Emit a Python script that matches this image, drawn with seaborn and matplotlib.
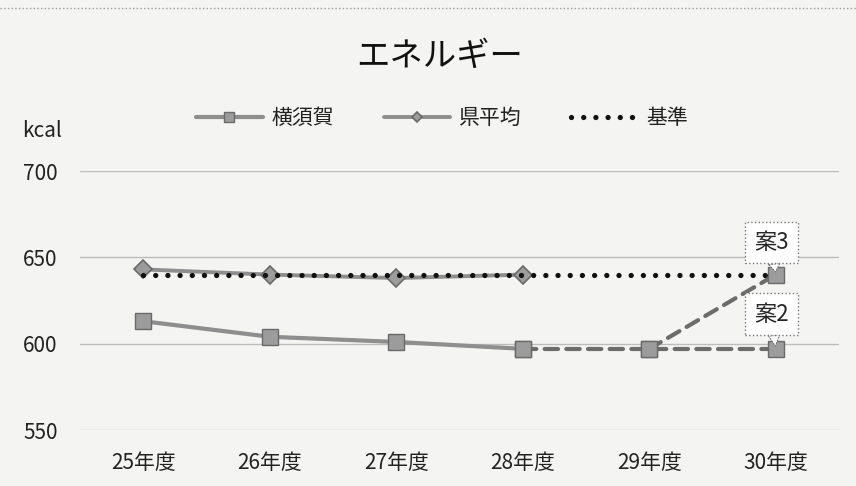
import numpy as np
import pandas as pd
import matplotlib
matplotlib.use("Agg")
import matplotlib.pyplot as plt
from matplotlib.lines import Line2D
import seaborn as sns

# ---- data ----
years = ["25年度", "26年度", "27年度", "28年度", "29年度", "30年度"]
yokosuka_years = ["25年度", "26年度", "27年度", "28年度"]
yokosuka = [613, 604, 601, 597]
plan2_years = ["28年度", "29年度", "30年度"]
plan2 = [597, 597, 597]
plan3_years = ["29年度", "30年度"]
plan3 = [597, 640]
pref_years = ["25年度", "26年度", "27年度", "28年度"]
pref_avg = [643, 640, 638, 640]
standard = [640, 640, 640, 640, 640, 640]
yticks = [550, 600, 650, 700]

sns.set_style("white")
plt.rcParams["font.family"] = ["Noto Sans CJK JP", "DejaVu Sans"]

BG = "#f4f4f2"
fig = plt.figure(figsize=(8.56, 4.86), dpi=100, facecolor=BG)
ax = fig.add_axes([80 / 856, 1 - 430 / 486, (839 - 80) / 856, (430 - 171) / 486])
ax.set_facecolor(BG)

# establish category order
ax.plot(years, [np.nan] * len(years))

LINE = "#8e8e8e"
MFC = "#9c9c9c"
MEC = "#6a6a6a"
DASH = "#6c6c6c"

df_y = pd.DataFrame({"x": yokosuka_years, "y": yokosuka})
df_p = pd.DataFrame({"x": pref_years, "y": pref_avg})
df_s = pd.DataFrame({"x": years, "y": standard})
df_2 = pd.DataFrame({"x": plan2_years, "y": plan2})
df_3 = pd.DataFrame({"x": plan3_years, "y": plan3})

sns.lineplot(data=df_p, x="x", y="y", ax=ax, color=LINE, lw=2.8, marker="D",
             markersize=9, markerfacecolor=MFC, markeredgecolor=MEC,
             markeredgewidth=1.2, label="県平均", zorder=3, sort=False)
sns.lineplot(data=df_2, x="x", y="y", ax=ax, color=DASH, lw=3.0,
             linestyle=(0, (3.2, 2.0)), dash_capstyle="round", zorder=3,
             sort=False, legend=False)
sns.lineplot(data=df_3, x="x", y="y", ax=ax, color=DASH, lw=3.0,
             linestyle=(0, (3.2, 2.0)), dash_capstyle="round", zorder=3,
             sort=False, legend=False)
sns.lineplot(data=df_2, x="x", y="y", ax=ax, color=LINE, lw=0, marker="s",
             markersize=11, markerfacecolor=MFC, markeredgecolor=MEC,
             markeredgewidth=1.0, zorder=4, sort=False, legend=False)
sns.lineplot(data=df_3, x="x", y="y", ax=ax, color=LINE, lw=0, marker="s",
             markersize=11, markerfacecolor=MFC, markeredgecolor=MEC,
             markeredgewidth=1.0, zorder=4, sort=False, legend=False)
sns.lineplot(data=df_y, x="x", y="y", ax=ax, color=LINE, lw=3.0, marker="s",
             markersize=11, markerfacecolor=MFC, markeredgecolor=MEC,
             markeredgewidth=1.0, label="横須賀", zorder=4, sort=False)
sns.lineplot(data=df_s, x="x", y="y", ax=ax, color="#111111", lw=3.8,
             linestyle=(0, (0.01, 2.3)), dash_capstyle="round", label="基準",
             zorder=5, sort=False)

ax.set_ylim(550, 700)
ax.set_xlim(-0.5, len(years) - 0.5)
ax.set_yticks(yticks)
ax.set_xlabel("")
ax.set_ylabel("")
for v in yticks:
    ax.axhline(v, color="#bcbcbc", lw=1.0, zorder=1)
for s in ax.spines.values():
    s.set_visible(False)
ax.tick_params(axis="both", length=0, labelsize=15, colors="#222222")
ax.tick_params(axis="y", pad=16)
ax.tick_params(axis="x", pad=16)

# legend
h, l = ax.get_legend_handles_labels()
order = [l.index("横須賀"), l.index("県平均"), l.index("基準")]
leg = fig.legend([h[i] for i in order], [l[i] for i in order], loc="center",
                 bbox_to_anchor=(442 / 856, 1 - 118 / 486), ncol=3,
                 frameon=False, fontsize=15, handlelength=3.2,
                 columnspacing=2.4, handletextpad=0.4, markerscale=0.6)
if ax.get_legend():
    ax.get_legend().remove()
for t in leg.get_texts():
    t.set_color("#222222")

# title, unit
fig.text(440 / 856, 1 - 56 / 486, "エネルギー", ha="center", va="center",
         fontsize=24, color="#111111")
fig.text(22 / 856, 1 - 131 / 486, "kcal", ha="left", va="center",
         fontsize=15, color="#222222")

# callouts
box = dict(boxstyle="square,pad=0.42", fc="white", ec="#777777", lw=1.0, ls=":")
arrow = dict(arrowstyle="wedge,tail_width=0.5,shrink_factor=0.5",
             fc="white", ec="#777777", lw=0.8, ls=":", shrinkA=0, shrinkB=2)
ax.annotate("案3", xy=("30年度", plan3[-1]), xytext=(-3, 23),
            textcoords="offset points", ha="center", va="center", fontsize=16,
            bbox=box, zorder=6, arrowprops=arrow)
ax.annotate("案2", xy=("30年度", plan2[-1]), xytext=(-3, 25),
            textcoords="offset points", ha="center", va="center", fontsize=16,
            bbox=box, zorder=6, arrowprops=arrow)

# chart area top border
fig.add_artist(Line2D([0, 1], [1 - 8 / 486, 1 - 8 / 486], color="#9a9a9a",
                      lw=1.0, ls=":", transform=fig.transFigure))

fig.savefig("out.png", dpi=100, facecolor=BG)
